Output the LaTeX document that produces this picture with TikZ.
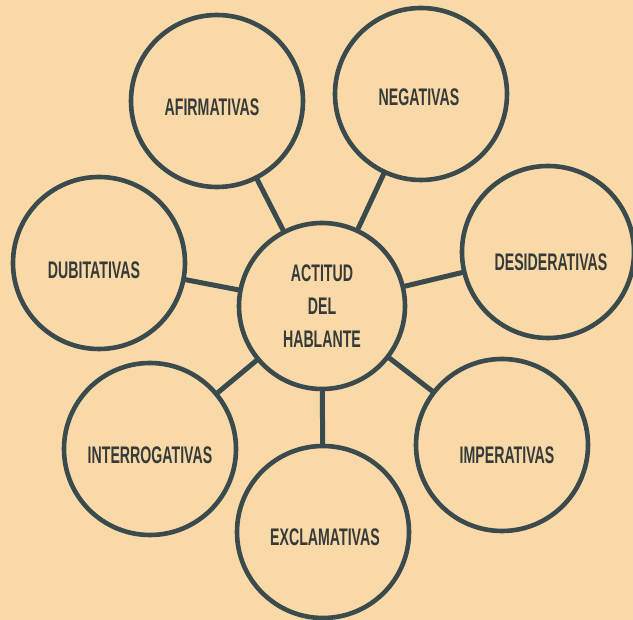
\documentclass[tikz,border=0pt]{standalone}
\usepackage{fontspec}
\usepackage{graphicx}
\setmainfont{Liberation Sans}
\definecolor{paper}{HTML}{F8D9A7}
\definecolor{ink}{HTML}{3B4A4C}
\definecolor{txt}{HTML}{363B3A}
\newcommand{\lbl}[1]{\scalebox{0.59}[1]{\bfseries #1}}
\begin{document}
\begin{tikzpicture}[x=1pt,y=-1pt,
  bubble/.style={circle,draw=ink,line width=4.6pt,fill=paper,inner sep=0pt,outer sep=0pt,minimum size=172pt},
  hub/.style={bubble,minimum size=166pt},
  link/.style={draw=ink,line width=5pt},
  word/.style={text=txt,font=\fontsize{24}{33}\selectfont,inner sep=0pt,align=center}]
\fill[paper] (0,0) rectangle (633,620);
\useasboundingbox (0,0) rectangle (633,620);
% lines first
\coordinate (pc) at (322,306);
\coordinate (pa) at (217,101);
\coordinate (pn) at (421,94);
\coordinate (pd) at (99,263);
\coordinate (ps) at (548,252);
\coordinate (pi) at (150,449);
\coordinate (pe) at (323,532);
\coordinate (pm) at (502,445);
\draw[link] (pc) -- (pa);
\draw[link] (pc) -- (pn);
\draw[link] (pc) -- (pd);
\draw[link] (pc) -- (ps);
\draw[link] (pc) -- (pi);
\draw[link] (pc) -- (pe);
\draw[link] (pc) -- (pm);
% circles
\node[hub] (c) at (pc) {};
\node[bubble] (a) at (pa) {};
\node[bubble] (n) at (pn) {};
\node[bubble] (d) at (pd) {};
\node[bubble] (s) at (ps) {};
\node[bubble] (i) at (pi) {};
\node[bubble] (e) at (pe) {};
\node[bubble] (m) at (pm) {};
% labels
\node[word] (tc) at (322,306) {\lbl{ACTITUD}\\\lbl{DEL}\\\lbl{HABLANTE}};
\node[word] (ta) at (212,107) {\lbl{AFIRMATIVAS}};
\node[word] (tn) at (419,97) {\lbl{NEGATIVAS}};
\node[word] (td) at (94,270) {\lbl{DUBITATIVAS}};
\node[word] (ts) at (551,262) {\lbl{DESIDERATIVAS}};
\node[word] (ti) at (150,455) {\lbl{INTERROGATIVAS}};
\node[word] (te) at (325,537) {\lbl{EXCLAMATIVAS}};
\node[word] (tm) at (507,455) {\lbl{IMPERATIVAS}};
\end{tikzpicture}
\end{document}
